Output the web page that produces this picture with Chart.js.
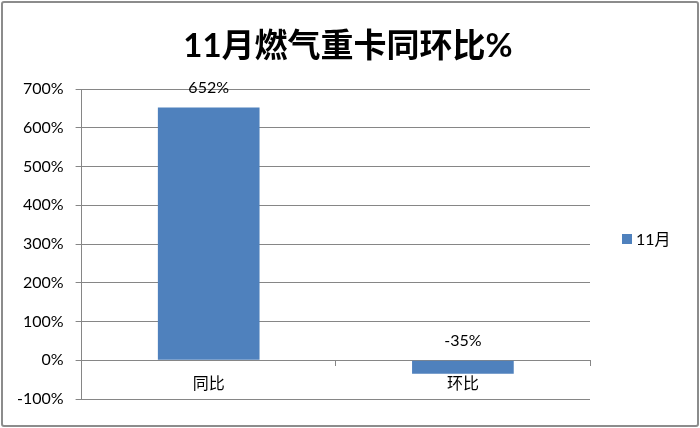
<!DOCTYPE html>
<html>
<head>
<meta charset="utf-8">
<script src="https://cdn.jsdelivr.net/npm/chart.js@4"></script>
<style>
    html, body { margin: 0; padding: 0; background: #fff; }
    #box {
        position: absolute; left: 1px; top: 1px;
        width: 694px; height: 422px;
        border: 2px solid #8c8c8c; border-radius: 3px;
        background: #fff;
    }
    canvas { display: block; }
</style>
</head>
<body>
<div id="box"><canvas id="chart" width="694" height="422"></canvas></div>
<script>
// Daten
const categories = ['同比', '环比'];
const seriesName = '11月';
const values = [652, -35];
const yTicks = [-100, 0, 100, 200, 300, 400, 500, 600, 700];
const chartTitle = '11月燃气重卡同环比%';

const FONT = "Lato, 'Noto Sans CJK SC', sans-serif";
const BAR_COLOR = '#4f81bd';

// Werte ueber die Balken schreiben
const valueLabels = {
    id: 'valueLabels',
    afterDatasetsDraw(chart) {
        const ctx = chart.ctx;
        const meta = chart.getDatasetMeta(0);
        ctx.save();
        ctx.font = '16px ' + FONT;
        ctx.fillStyle = '#000';
        ctx.textAlign = 'center';
        ctx.textBaseline = 'middle';
        meta.data.forEach((bar, i) => {
            const top = Math.min(bar.y, bar.base);
            ctx.fillText(values[i] + '%', bar.x, top - 20);
        });
        ctx.restore();
    }
};

// Titel ueber die ganze Breite zentriert + Legende rechts
const titleAndLegend = {
    id: 'titleAndLegend',
    afterDraw(chart) {
        const ctx = chart.ctx;
        const area = chart.chartArea;
        ctx.save();
        ctx.font = 'bold 33px ' + FONT;
        ctx.fillStyle = '#000';
        ctx.textAlign = 'center';
        ctx.textBaseline = 'middle';
        ctx.fillText(chartTitle, chart.width / 2 - 2, 43);

        const x = area.right + 32;
        const y = (area.top + area.bottom) / 2 - 5;
        ctx.fillStyle = chart.data.datasets[0].backgroundColor;
        ctx.fillRect(x, y - 5, 10, 10);
        ctx.font = '16px ' + FONT;
        ctx.fillStyle = '#000';
        ctx.textAlign = 'left';
        ctx.fillText(chart.data.datasets[0].label, x + 14, y + 1);
        ctx.restore();
    }
};

new Chart(document.getElementById('chart'), {
    type: 'bar',
    data: {
        labels: categories,
        datasets: [{
            label: seriesName,
            data: values,
            backgroundColor: BAR_COLOR,
            barPercentage: 0.4,
            categoryPercentage: 1.0
        }]
    },
    options: {
        responsive: false,
        animation: false,
        layout: { padding: { left: 2, right: 107, top: 86, bottom: 26 } },
        plugins: {
            title: { display: false },
            legend: { display: false },
            tooltip: { enabled: false }
        },
        scales: {
            x: {
                position: { y: 0 },
                grid: { display: true, drawOnChartArea: false, offset: true, tickLength: 5, color: '#868686' },
                border: { display: true, color: '#868686', width: 1 },
                ticks: { color: '#000', font: { family: FONT, size: 16 }, padding: 9 }
            },
            y: {
                min: -100,
                max: 700,
                afterBuildTicks(axis) {
                    axis.ticks = yTicks.map(v => ({ value: v }));
                },
                grid: { color: '#868686', tickLength: 6 },
                border: { display: true, color: '#868686', width: 1 },
                ticks: {
                    color: '#000',
                    font: { family: FONT, size: 16 },
                    padding: 12,
                    callback: v => v + '%'
                }
            }
        }
    },
    plugins: [valueLabels, titleAndLegend]
});
</script>
</body>
</html>
